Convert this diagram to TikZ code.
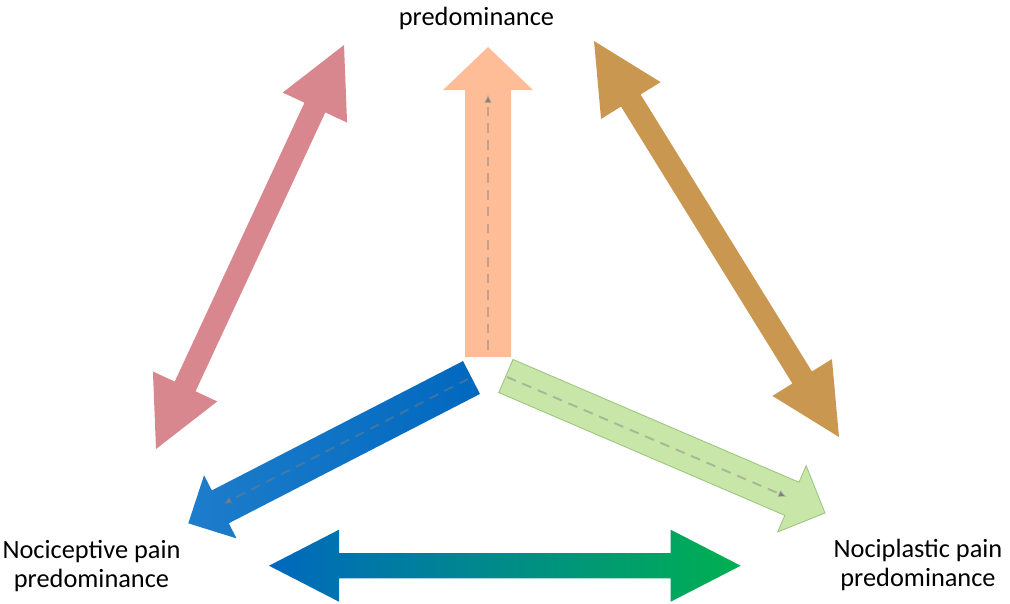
\documentclass[tikz,border=0pt]{standalone}
\usepackage{fontspec}
\setmainfont{Carlito}
\usetikzlibrary{calc,arrows.meta}

\definecolor{peach}{HTML}{FFBD97}
\definecolor{rosepink}{HTML}{D8878F}
\definecolor{ochre}{HTML}{C9974F}
\definecolor{leaf}{HTML}{C9E6A9}
\definecolor{leafline}{HTML}{9CC67F}
\definecolor{deepblue}{HTML}{0068BF}
\definecolor{lightblue}{HTML}{1E7DCB}
\definecolor{brightgreen}{HTML}{00B050}

% block arrow: style, tail, tip, shaft half width, head half width, head length (px)
\newcommand{\singlearrow}[6]{%
	\coordinate (hb) at ($(#3)!#6*0.02cm!(#2)$);
	\path[#1] ($(#2)!#4*0.02cm!90:(#3)$) -- ($(hb)!#4*0.02cm!-90:(#2)$) -- ($(hb)!#5*0.02cm!-90:(#2)$) -- (#3)
		-- ($(hb)!#5*0.02cm!90:(#2)$) -- ($(hb)!#4*0.02cm!90:(#2)$) -- ($(#2)!#4*0.02cm!-90:(#3)$) -- cycle;}
% block arrow with a head at both ends
\newcommand{\doublearrow}[6]{%
	\coordinate (ha) at ($(#2)!#6*0.02cm!(#3)$);
	\coordinate (hb) at ($(#3)!#6*0.02cm!(#2)$);
	\path[#1] (#2) -- ($(ha)!#5*0.02cm!90:(#3)$) -- ($(ha)!#4*0.02cm!90:(#3)$) -- ($(hb)!#4*0.02cm!-90:(#2)$)
		-- ($(hb)!#5*0.02cm!-90:(#2)$) -- (#3) -- ($(hb)!#5*0.02cm!90:(#2)$) -- ($(hb)!#4*0.02cm!90:(#2)$)
		-- ($(ha)!#4*0.02cm!-90:(#3)$) -- ($(ha)!#5*0.02cm!-90:(#3)$) -- cycle;}

\begin{document}
\begin{tikzpicture}[x=0.02cm, y=-0.02cm,
		lbl/.style={font=\fontsize{15}{16.4}\selectfont, inner sep=0pt},
		guide/.style={draw=gray, draw opacity=0.45, line width=1.1pt, dash pattern=on 5.5pt off 4pt, -{Latex[length=5pt,width=4.5pt]}}]
	\useasboundingbox (0,0) rectangle (1010,603);

	% arrow ends
	\coordinate (neutail) at (488,357);
	\coordinate (neutip) at (488,47);
	\coordinate (noctail) at (471.5,377.5);
	\coordinate (noctip) at (188.3,523.3);
	\coordinate (platail) at (505.9,376);
	\coordinate (platip) at (825,513);
	\coordinate (pinka) at (156,449);
	\coordinate (pinkb) at (344,45);
	\coordinate (ochrea) at (594,41);
	\coordinate (ochreb) at (839,437);
	\coordinate (bota) at (269,565.7);
	\coordinate (botb) at (740.7,565.7);

	% three arrows out of the centre
	\singlearrow{fill=peach}{neutail}{neutip}{23}{45}{43}
	\singlearrow{left color=lightblue, right color=deepblue}{noctail}{noctip}{18.5}{35.5}{36}
	\singlearrow{fill=leaf, draw=leafline, line width=0.5pt}{platail}{platip}{18}{36}{36}

	% arrows between the corners
	\doublearrow{fill=rosepink}{pinka}{pinkb}{11.5}{35.5}{69}
	\doublearrow{fill=ochre}{ochrea}{ochreb}{11.5}{35}{70}
	\doublearrow{left color=deepblue, right color=brightgreen}{bota}{botb}{12.7}{36}{70}

	% dashed guides
	\coordinate (g1a) at (488,350);
	\coordinate (g1b) at (488,94);
	\coordinate (g2a) at (468,379);
	\coordinate (g2b) at (223,504);
	\coordinate (g3a) at (507,377);
	\coordinate (g3b) at (787,497);
	\draw[guide] (g1a) -- (g1b);
	\draw[guide] (g2a) -- (g2b);
	\draw[guide] (g3a) -- (g3b);

	% labels
	\node[lbl, anchor=base] (neulabel) at (476.5,25) {predominance};
	\node[lbl, align=center, anchor=base] (noclabel) at (91.5,587.3) {Nociceptive pain\\predominance};
	\node[lbl, align=center, anchor=base] (plalabel) at (918,586.7) {Nociplastic pain\\predominance};
\end{tikzpicture}
\end{document}
